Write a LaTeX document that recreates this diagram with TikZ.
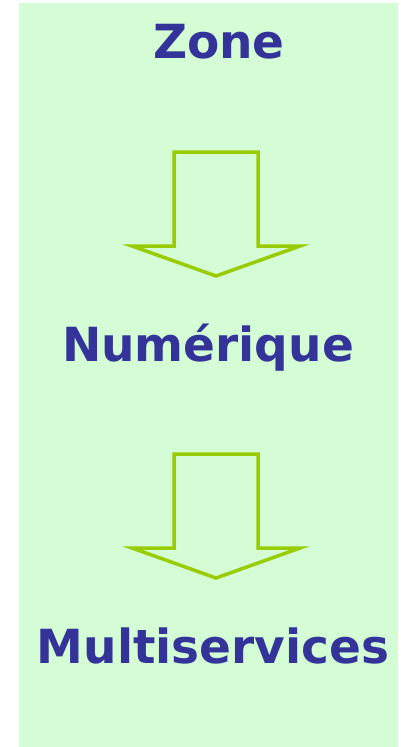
\documentclass[tikz,border=0pt]{standalone}
\usepackage{fontspec}
\setmainfont{DejaVu Sans}
\definecolor{bggreen}{HTML}{D5FDD5}
\definecolor{txtblue}{HTML}{333399}
\definecolor{arrgreen}{HTML}{99CC00}
\tikzset{
  label text/.style={text=txtblue, font=\fontsize{47}{56}\selectfont\bfseries, anchor=base, inner sep=0pt},
  block arrow/.style={draw=arrgreen, line width=3.5pt, line join=miter}
}
\begin{document}
\begin{tikzpicture}[x=1pt,y=-1pt]
\useasboundingbox (0,0) rectangle (400,747);
\fill[bggreen] (19,3) rectangle (398,747);
\node[label text] (zone) at (219,58) {Zone};
\node[label text] (num) at (208,361) {Numérique};
\node[label text] (multi) at (213,663) {Multiservices};
\draw[block arrow] (174,152) -- (258,152) -- (258,246) -- (300,246) -- (216,276) -- (132,246) -- (174,246) -- cycle;
\draw[block arrow] (174,454) -- (258,454) -- (258,548) -- (300,548) -- (216,578) -- (132,548) -- (174,548) -- cycle;
\end{tikzpicture}
\end{document}
